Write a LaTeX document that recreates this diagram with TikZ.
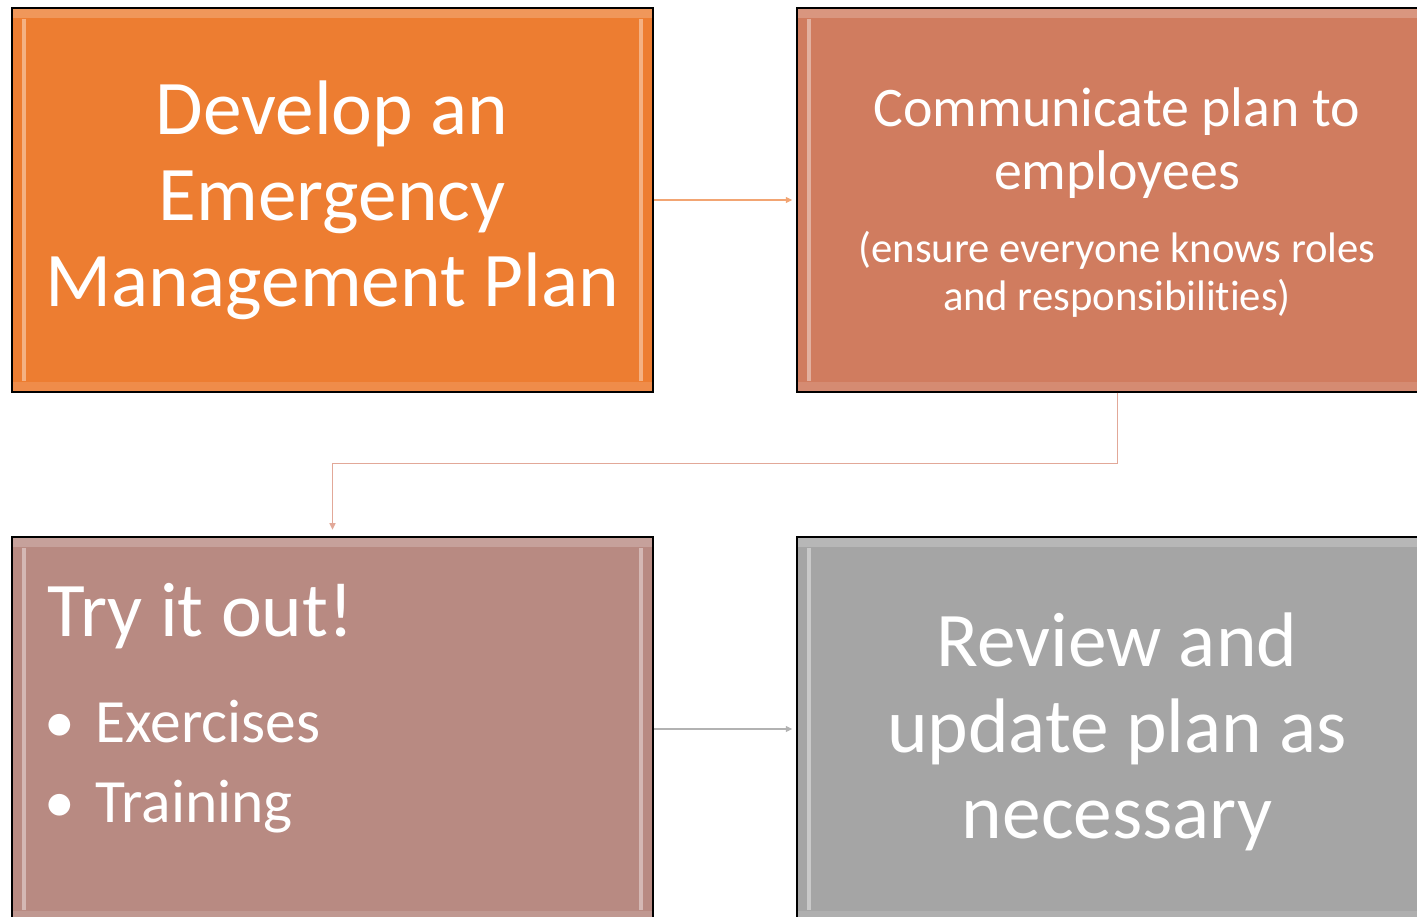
\documentclass[tikz,border=0pt]{standalone}
\usepackage{fontspec}
\setmainfont[Ligatures=NoCommon]{Carlito}
\usetikzlibrary{arrows.meta}
\definecolor{planorange}{RGB}{237,125,49}
\definecolor{commsalmon}{RGB}{208,124,95}
\definecolor{tryrose}{RGB}{184,138,130}
\definecolor{reviewgray}{RGB}{165,165,165}
\definecolor{linkorange}{RGB}{242,165,115}
\definecolor{linksalmon}{RGB}{226,168,152}
\definecolor{linkgray}{RGB}{178,178,178}
\tikzset{
  stagebox/.style={draw=black,line width=0.3mm,minimum width=128.2mm,minimum height=76.8mm,inner sep=0pt,
    path picture={
      \fill[white,opacity=0.2] (path picture bounding box.north west) rectangle ([yshift=-2mm]path picture bounding box.north east);
      \fill[white,opacity=0.12] (path picture bounding box.south west) rectangle ([yshift=2mm]path picture bounding box.south east);
      \draw[white,opacity=0.4,line width=0.7mm] ([xshift=2.4mm,yshift=-2.2mm]path picture bounding box.north west) -- ([xshift=2.4mm,yshift=2.2mm]path picture bounding box.south west);
      \draw[white,opacity=0.4,line width=0.7mm] ([xshift=-2.4mm,yshift=-2.2mm]path picture bounding box.north east) -- ([xshift=-2.4mm,yshift=2.2mm]path picture bounding box.south east);
    }},
  boxtext/.style={text=white,inner sep=0pt,align=center},
  link/.style={line width=0.25mm,-{Triangle[length=1.3mm,width=1.2mm]}}
}
\begin{document}
\begin{tikzpicture}
    \useasboundingbox (0,0) rectangle (283.4mm,-183.4mm);

    % the four stages
    \node[stagebox,fill=planorange] (develop) at (66.5mm,-40mm) {};
    \node[stagebox,fill=commsalmon] (communicate) at (223.5mm,-40mm) {};
    \node[stagebox,fill=tryrose] (tryout) at (66.5mm,-145.8mm) {};
    \node[stagebox,fill=reviewgray] (review) at (223.5mm,-145.8mm) {};

    \node[boxtext,font=\fontsize{44}{49}\selectfont] (developtext) at (66.4mm,-40mm) {Develop an\\Emergency\\Management Plan};

    \node[boxtext,font=\fontsize{31.8}{35.5}\selectfont] (commhead) at (223.4mm,-28.6mm) {Communicate plan to\\employees};
    \node[boxtext,font=\fontsize{24.3}{27.3}\selectfont] (commnote) at (223.4mm,-54.8mm) {(ensure everyone knows roles\\and responsibilities)};

    \node[boxtext,anchor=base west,font=\fontsize{44}{48}\selectfont] (trytitle) at (9.4mm,-127.2mm) {Try it out!};
    \node[boxtext,anchor=base,font=\fontsize{35}{45}\selectfont] (bulletone) at (12mm,-148.4mm) {\textbullet};
    \node[boxtext,anchor=base west,font=\fontsize{35}{45}\selectfont] (exercises) at (19mm,-148.4mm) {Exercises};
    \node[boxtext,anchor=base,font=\fontsize{35}{45}\selectfont] (bullettwo) at (12mm,-164.4mm) {\textbullet};
    \node[boxtext,anchor=base west,font=\fontsize{35}{45}\selectfont] (training) at (19mm,-164.4mm) {Training};

    \node[boxtext,font=\fontsize{44}{49}\selectfont] (reviewtext) at (223.4mm,-146.4mm) {Review and\\update plan as\\necessary};

    % connectors
    \draw[link,linkorange,shorten >=0.8mm] (develop.east) -- (communicate.west);
    \draw[link,linksalmon,shorten >=1.3mm] (communicate.south) -- ++(0,-14.2mm) -| (tryout.north);
    \draw[link,linkgray,shorten >=0.8mm] (tryout.east) -- (review.west);
  \end{tikzpicture}
\end{document}
